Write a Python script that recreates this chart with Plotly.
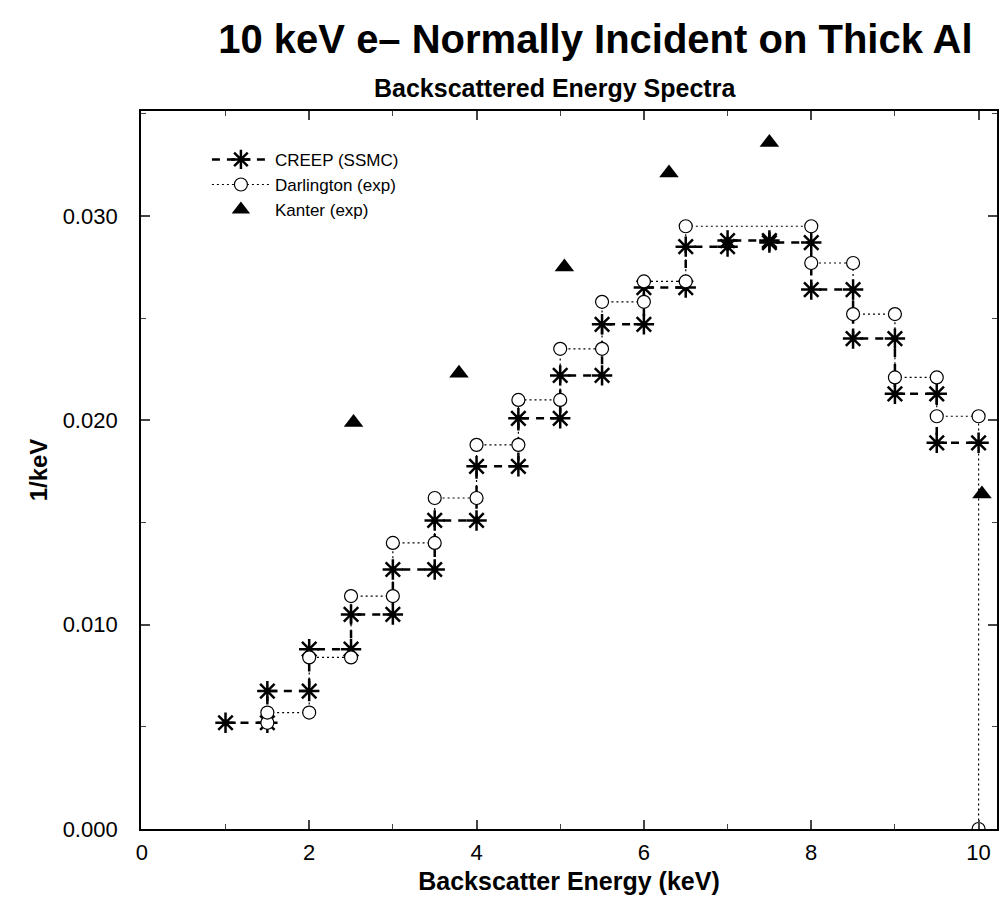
import plotly.graph_objects as go

# CREEP (SSMC) step points
creep_x = [1.0, 1.5, 1.5, 2.0, 2.0, 2.5, 2.5, 3.0, 3.0, 3.5, 3.5, 4.0, 4.0, 4.5, 4.5, 5.0,
           5.0, 5.5, 5.5, 6.0, 6.0, 6.5, 6.5, 7.0, 7.0, 7.5, 7.5, 8.0, 8.0, 8.5, 8.5, 9.0,
           9.0, 9.5, 9.5, 10.0]
creep_bins = [0.0052, 0.00675, 0.0088, 0.0105, 0.0127, 0.0151, 0.01775, 0.0201, 0.0222,
              0.0247, 0.0265, 0.0285, 0.0288, 0.0287, 0.0264, 0.0240, 0.0213, 0.0189]
creep_y = [v for v in creep_bins for _ in range(2)]

# Darlington (exp) step points
darl_x = [1.5, 1.5, 2.0, 2.0, 2.5, 2.5, 3.0, 3.0, 3.5, 3.5, 4.0, 4.0, 4.5, 4.5, 5.0, 5.0,
          5.5, 5.5, 6.0, 6.0, 6.5, 6.5, 8.0, 8.0, 8.5, 8.5, 9.0, 9.0, 9.5, 9.5, 10.0, 10.0]
darl_y = [0.0052, 0.0057, 0.0057, 0.0084, 0.0084, 0.0114, 0.0114, 0.0140, 0.0140, 0.0162,
          0.0162, 0.0188, 0.0188, 0.0210, 0.0210, 0.0235, 0.0235, 0.0258, 0.0258, 0.0268,
          0.0268, 0.0295, 0.0295, 0.0277, 0.0277, 0.0252, 0.0252, 0.0221, 0.0221, 0.0202,
          0.0202, 0.0]

# Kanter (exp)
kanter_x = [2.53, 3.79, 5.05, 6.3, 7.5, 10.04]
kanter_y = [0.0199, 0.0223, 0.0275, 0.0321, 0.0336, 0.0164]

x_ticks = [0, 2, 4, 6, 8, 10]
y_ticks = [0.0, 0.01, 0.02, 0.03]

FONT = "Liberation Sans, Arial, Helvetica, sans-serif"

fig = go.Figure()
fig.add_trace(go.Scatter(
    x=creep_x, y=creep_y, mode="lines+markers", name="CREEP (SSMC)",
    line=dict(color="black", width=2.5, dash="8px,7px"),
    marker=dict(symbol="asterisk-open", size=17, line=dict(color="black", width=2.5)),
))
fig.add_trace(go.Scatter(
    x=darl_x, y=darl_y, mode="lines+markers", name="Darlington (exp)",
    line=dict(color="black", width=1.2, dash="2px,3px"),
    marker=dict(symbol="circle", size=13, color="white", line=dict(color="black", width=1.2)),
))
fig.add_trace(go.Scatter(
    x=kanter_x, y=kanter_y, mode="markers", name="Kanter (exp)",
    marker=dict(symbol="triangle-up", size=17, color="black"),
))

fig.update_layout(
    width=999, height=901,
    margin=dict(l=141, r=0, t=111, b=72),
    paper_bgcolor="white", plot_bgcolor="white",
    font=dict(family=FONT, color="black", size=18),
    title=dict(text="<b>10 keV e\u2013 Normally Incident on Thick Al</b>",
               x=0.596, xanchor="center", y=0.957, yanchor="middle",
               font=dict(size=40, family=FONT)),
    showlegend=True,
    legend=dict(x=0.077, y=0.957, xanchor="left", yanchor="top",
                bgcolor="rgba(0,0,0,0)", font=dict(size=17, family=FONT),
                itemwidth=58, tracegroupgap=0),
    annotations=[dict(text="<b>Backscattered Energy Spectra</b>", xref="paper", yref="paper",
                      x=0.484, y=1.0, yshift=23, xanchor="center", yanchor="middle",
                      showarrow=False, font=dict(size=25, family=FONT))],
)
fig.update_xaxes(
    range=[-0.01, 10.22], tickvals=x_ticks, ticks="inside", ticklen=9, tickwidth=1.5,
    showline=True, linecolor="black", linewidth=1.8, mirror="ticks",
    showgrid=False, zeroline=False, ticklabelstandoff=3,
    minor=dict(dtick=1, tick0=0, ticks="inside", ticklen=5, tickwidth=1),
    title=dict(text="<b>Backscatter Energy (keV)</b>", font=dict(size=25, family=FONT), standoff=8),
    tickfont=dict(size=22),
)
fig.update_yaxes(
    range=[0, 0.03514], tickvals=y_ticks, tickformat=".3f", ticks="inside", ticklen=9, tickwidth=1.5,
    showline=True, linecolor="black", linewidth=1.8, mirror="ticks",
    showgrid=False, zeroline=False, ticklabelstandoff=17,
    minor=dict(dtick=0.005, tick0=0, ticks="inside", ticklen=5, tickwidth=1),
    title=dict(text="<b>1/keV</b>", font=dict(size=24, family=FONT), standoff=8),
    tickfont=dict(size=22),
)

fig.write_html("out.html")
